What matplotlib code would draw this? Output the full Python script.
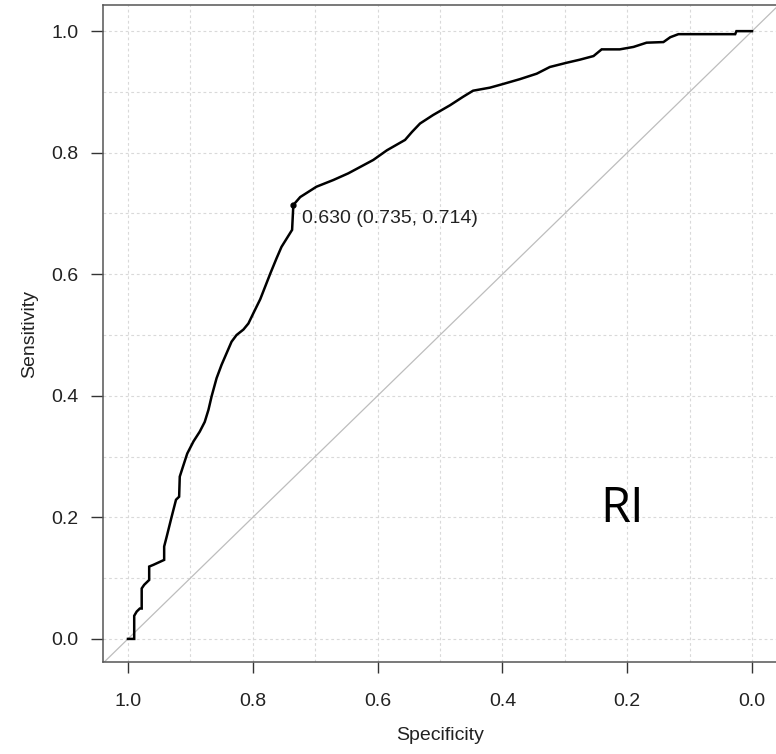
import matplotlib
matplotlib.use("Agg")
import matplotlib.pyplot as plt
import numpy as np

# ROC curve points (specificity, sensitivity)
specificity = [1.000, 0.990, 0.990, 0.986, 0.981, 0.978, 0.978, 0.974, 0.966, 0.966,
               0.959, 0.942, 0.942, 0.938, 0.930, 0.923, 0.918, 0.917, 0.912, 0.905,
               0.895, 0.885, 0.877, 0.871, 0.866, 0.858, 0.850, 0.834, 0.826, 0.815,
               0.807, 0.799, 0.788, 0.772, 0.762, 0.754, 0.737, 0.735, 0.724, 0.698,
               0.671, 0.647, 0.607, 0.585, 0.556, 0.545, 0.532, 0.511, 0.484, 0.463,
               0.447, 0.420, 0.399, 0.372, 0.345, 0.324, 0.297, 0.276, 0.254, 0.241,
               0.212, 0.190, 0.169, 0.142, 0.131, 0.118, 0.027, 0.025, 0.000]
sensitivity = [0.000, 0.000, 0.038, 0.045, 0.050, 0.050, 0.083, 0.089, 0.097, 0.119,
               0.122, 0.130, 0.152, 0.168, 0.201, 0.229, 0.234, 0.267, 0.283, 0.305,
               0.325, 0.341, 0.357, 0.377, 0.399, 0.429, 0.451, 0.489, 0.500, 0.509,
               0.519, 0.536, 0.559, 0.601, 0.626, 0.645, 0.673, 0.714, 0.727, 0.744,
               0.755, 0.766, 0.788, 0.804, 0.821, 0.834, 0.848, 0.862, 0.878, 0.892,
               0.902, 0.907, 0.913, 0.921, 0.930, 0.941, 0.948, 0.953, 0.959, 0.970,
               0.970, 0.974, 0.981, 0.982, 0.990, 0.995, 0.995, 1.000, 1.000]

best_threshold = 0.630
best_spec = 0.735
best_sens = 0.714

x_ticks = [1.0, 0.8, 0.6, 0.4, 0.2, 0.0]
y_ticks = [0.0, 0.2, 0.4, 0.6, 0.8, 1.0]
panel_label = "RI"

plt.rcParams['font.family'] = ['Liberation Sans', 'DejaVu Sans']

fig = plt.figure(figsize=(7.76, 7.54), dpi=100)
ax = fig.add_axes([103/776, 1 - 662/754, 674/776, 657/754])

ax.set_xlim(1.04, -0.04)
ax.set_ylim(-0.038, 1.043)

# grid
grid_vals = np.round(np.arange(0, 1.01, 0.1), 1)
for g in grid_vals:
    ax.axvline(g, color='#d9d9d9', lw=0.8, ls=(0, (2.5, 2.5)), zorder=0)
    ax.axhline(g, color='#d9d9d9', lw=0.8, ls=(0, (2.5, 2.5)), zorder=0)

# diagonal
ax.axline((1, 0), (0, 1), color='#bdbdbd', lw=0.9, zorder=1)

# ROC curve
ax.plot(specificity, sensitivity, color='black', lw=1.8, zorder=3,
        solid_joinstyle='miter')
ax.plot([best_spec], [best_sens], 'o', color='black', ms=3.5, zorder=4)
ax.annotate(f"{best_threshold:.3f} ({best_spec:.3f}, {best_sens:.3f})",
            xy=(best_spec, best_sens), xytext=(6.5, -9.5),
            textcoords='offset points', ha='left', va='center',
            fontsize=14, color='#222222')

ax.text(0.208, 0.193, panel_label, ha='center', va='baseline',
        fontsize=35, family=['Open Sans', 'DejaVu Sans'], color='black')

ax.set_xticks(x_ticks)
ax.set_xticklabels([f"{v:.1f}" for v in x_ticks])
ax.set_yticks(y_ticks)
ax.set_yticklabels([f"{v:.1f}" for v in y_ticks])
ax.tick_params(axis='x', length=8, width=1.0, pad=14, labelsize=14,
               colors='#333333', labelcolor='#222222')
ax.tick_params(axis='y', length=8.5, width=1.0, pad=9, labelsize=14,
               colors='#333333', labelcolor='#222222')

for side in ['left', 'top', 'bottom']:
    ax.spines[side].set_color('#555555')
    ax.spines[side].set_linewidth(1.1)
ax.spines['right'].set_visible(False)

ax.set_xlabel("Specificity", fontsize=14, color='#222222')
ax.set_ylabel("Sensitivity", fontsize=14, color='#222222')
ax.xaxis.set_label_coords(0.5, (662 - 736) / 657)
ax.xaxis.label.set_va('center')
ax.yaxis.set_label_coords((30 - 103) / 674, 0.5)
ax.yaxis.label.set_va('center')

fig.savefig("out.png", dpi=100)
